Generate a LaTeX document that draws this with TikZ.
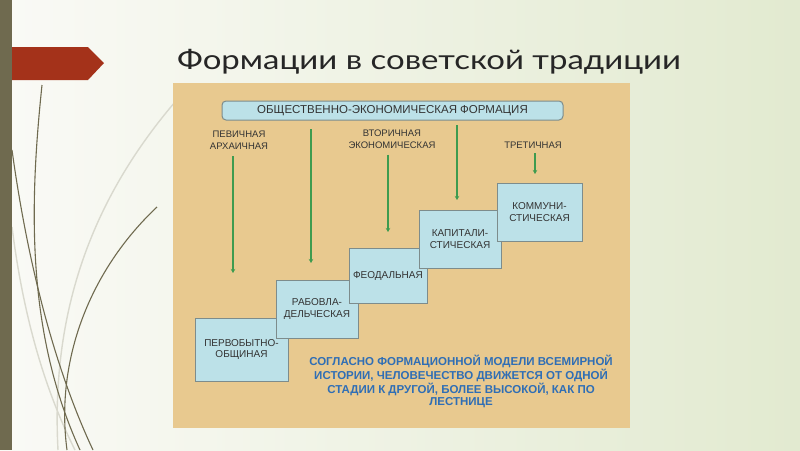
\documentclass[tikz,border=0pt]{standalone}
\usepackage{graphicx}
\usepackage{fontspec}
\setmainfont{Liberation Sans}
\newfontfamily\titlefont{Lato}
\usetikzlibrary{arrows.meta}

\definecolor{bgleft}{HTML}{FAFAF6}
\definecolor{bgright}{HTML}{E2EAD0}
\definecolor{barbrown}{HTML}{6F6A4F}
\definecolor{tabred}{HTML}{A4321A}
\definecolor{curvelight}{HTML}{D9D9CE}
\definecolor{paneltan}{HTML}{E8C98F}
\definecolor{boxblue}{HTML}{BCE1E8}
\definecolor{boxedge}{HTML}{7D8C8C}
\definecolor{boxtext}{HTML}{333333}
\definecolor{arrowgreen}{HTML}{3E9B4F}
\definecolor{noteblue}{HTML}{2F6EB5}

\tikzset{
  stagebox/.style = {draw = boxedge, fill = boxblue, line width = 1pt,
    align = center, inner sep = 0pt, text = boxtext,
    font = \fontsize{10}{11.5}\selectfont},
  headbox/.style = {stagebox, rounded corners = 4pt,
    font = \fontsize{11.5}{12}\selectfont},
  levellabel/.style = {align = center, inner sep = 0pt, text = boxtext,
    font = \fontsize{9.5}{12}\selectfont},
  greenarrow/.style = {draw = arrowgreen, line width = 1.5pt,
    -{Stealth[length = 4pt, width = 4.5pt]}},
  darkcurve/.style = {draw = barbrown, line width = 1.1pt},
  lightcurve/.style = {draw = curvelight, line width = 1.4pt}
}

\begin{document}
\begin{tikzpicture}[x = 1pt, y = -1pt]
\useasboundingbox (0, 0) rectangle (800, 450);
\shade[left color = bgleft, right color = bgright] (0, 0) rectangle (800, 450);

% decorative curves
\draw[lightcurve] (175, 102) .. controls (100, 190) and (50, 300) .. (58, 450);
\draw[lightcurve] (12, 227) .. controls (25, 330) and (50, 400) .. (75, 450);
\draw[darkcurve] (42, 85) .. controls (30, 200) and (25, 330) .. (80, 450);
\draw[darkcurve] (12, 150) .. controls (30, 280) and (60, 380) .. (93, 450);
\draw[darkcurve] (157, 207) .. controls (90, 270) and (55, 360) .. (67, 450);

\fill[tabred] (0, 47) -- (88, 47) -- (104, 63) -- (88, 80) -- (0, 80) -- cycle;
\fill[barbrown] (0, 0) rectangle (12, 450);

\node[anchor = west, inner sep = 0pt, text = black!85,
  font = \titlefont\fontsize{27}{27}\selectfont] (title) at (177, 62)
  {\scalebox{1.22}[1]{Формации в советской традиции}};

\fill[paneltan] (173, 83) rectangle (630, 428);

\node[headbox, minimum width = 341pt, minimum height = 19pt] (formation) at (392.5, 110.5)
  {ОБЩЕСТВЕННО-ЭКОНОМИЧЕСКАЯ ФОРМАЦИЯ};

\node[levellabel] (primary) at (239, 140) {ПЕВИЧНАЯ\\АРХАИЧНАЯ};
\node[levellabel] (secondary) at (392, 139) {ВТОРИЧНАЯ\\ЭКОНОМИЧЕСКАЯ};
\node[levellabel] (tertiary) at (533, 145) {ТРЕТИЧНАЯ};

% stages, each one over the previous
\node[stagebox, minimum width = 93pt, minimum height = 63pt] (primitive) at (241.5, 349.5)
  {ПЕРВОБЫТНО-\\ОБЩИНАЯ};
\node[stagebox, minimum width = 82pt, minimum height = 58pt] (slave) at (317, 309)
  {РАБОВЛА-\\ДЕЛЬЧЕСКАЯ};
\node[stagebox, minimum width = 78pt, minimum height = 55pt] (feudal) at (388, 275.5)
  {ФЕОДАЛЬНАЯ};
\node[stagebox, minimum width = 82pt, minimum height = 58pt] (capital) at (460, 239)
  {КАПИТАЛИ-\\СТИЧЕСКАЯ};
\node[stagebox, minimum width = 85pt, minimum height = 58pt] (commun) at (539.5, 212)
  {КОММУНИ-\\СТИЧЕСКАЯ};

\coordinate (end1) at (233, 273);
\coordinate (top2) at (311, 129);
\coordinate (end2) at (311, 263);
\coordinate (end3) at (388, 232);
\coordinate (top4) at (457, 125);
\coordinate (end4) at (457, 200);
\coordinate (end5) at (535, 174);

\draw[greenarrow] ([yshift = -7pt]primary.south -| end1) -- (end1);
\draw[greenarrow] (top2) -- (end2);
\draw[greenarrow] ([yshift = -6pt]secondary.south -| end3) -- (end3);
\draw[greenarrow] (top4) -- (end4);
\draw[greenarrow] ([yshift = -5pt]tertiary.south -| end5) -- (end5);

\node[align = center, inner sep = 0pt, text = noteblue,
  font = \bfseries\fontsize{11.5}{12.5}\selectfont] (note) at (461, 381.5)
  {СОГЛАСНО ФОРМАЦИОННОЙ МОДЕЛИ ВСЕМИРНОЙ\\
   ИСТОРИИ, ЧЕЛОВЕЧЕСТВО ДВИЖЕТСЯ ОТ ОДНОЙ\\
   СТАДИИ К ДРУГОЙ, БОЛЕЕ ВЫСОКОЙ, КАК ПО\\
   ЛЕСТНИЦЕ};
\end{tikzpicture}
\end{document}
